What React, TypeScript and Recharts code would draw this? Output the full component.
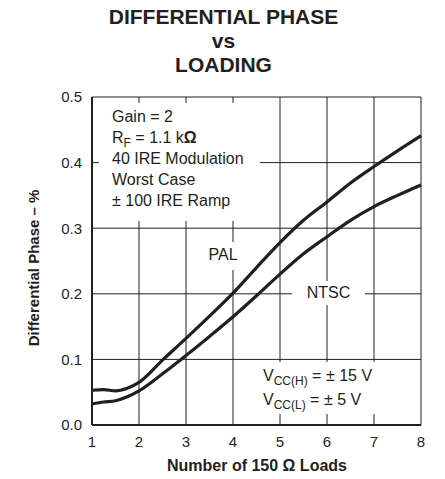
import { CartesianGrid, Line, LineChart, XAxis, YAxis } from "recharts";

const loads = [1, 1.25, 1.5, 1.75, 2, 2.5, 3, 3.5, 4, 4.5, 5, 5.5, 6, 6.5, 7, 7.5, 8];
const pal = [0.053, 0.054, 0.052, 0.056, 0.065, 0.099, 0.132, 0.166, 0.201, 0.24, 0.278, 0.312, 0.34, 0.369, 0.394, 0.418, 0.441];
const ntsc = [0.032, 0.035, 0.037, 0.043, 0.052, 0.078, 0.106, 0.135, 0.165, 0.197, 0.23, 0.261, 0.287, 0.312, 0.333, 0.35, 0.366];

const xTicks = [1, 2, 3, 4, 5, 6, 7, 8];
const yTicks = [0, 0.1, 0.2, 0.3, 0.4, 0.5];

const INK = "#231f20";
const FONT = "'Liberation Sans', Arial, Helvetica, sans-serif";

const data = loads.map((x, i) => ({ x, pal: pal[i], ntsc: ntsc[i] }));

const tickStyle = { fill: INK, fontSize: 15, fontFamily: FONT };

function Box({ left, top, width, height, children, style }: any) {
  return (
    <div
      style={{
        position: "absolute",
        left,
        top,
        width,
        height,
        background: "#fff",
        color: INK,
        fontSize: 16,
        lineHeight: "21px",
        ...style,
      }}
    >
      {children}
    </div>
  );
}

const sub = { fontSize: 12, verticalAlign: "-4px", lineHeight: 0 } as const;

export default function App() {
  return (
    <div
      style={{
        position: "absolute",
        left: 0,
        top: 0,
        width: 445,
        height: 479,
        background: "#fff",
        fontFamily: FONT,
        color: INK,
      }}
    >
      <LineChart width={445} height={479} data={data} margin={{ top: 97, right: 24, bottom: 24, left: 32 }}>
        <CartesianGrid stroke={INK} strokeWidth={1} horizontalValues={yTicks} verticalValues={xTicks} />
        <XAxis
          dataKey="x"
          type="number"
          domain={[1, 8]}
          ticks={xTicks}
          height={30}
          tick={tickStyle}
          tickSize={0}
          tickMargin={11}
          axisLine={{ stroke: INK, strokeWidth: 2 }}
          tickLine={false}
        />
        <XAxis
          xAxisId="top"
          orientation="top"
          type="number"
          domain={[1, 8]}
          height={0}
          tick={false}
          tickLine={false}
          axisLine={{ stroke: INK, strokeWidth: 2 }}
        />
        <YAxis
          type="number"
          domain={[0, 0.5]}
          ticks={yTicks}
          width={60}
          tick={tickStyle}
          tickSize={0}
          tickMargin={10}
          tickFormatter={(v: number) => v.toFixed(1)}
          axisLine={{ stroke: INK, strokeWidth: 2 }}
          tickLine={false}
        />
        <YAxis
          yAxisId="right"
          orientation="right"
          type="number"
          domain={[0, 0.5]}
          width={0}
          tick={false}
          tickLine={false}
          axisLine={{ stroke: INK, strokeWidth: 2 }}
        />
        <Line
          type="monotone"
          dataKey="pal"
          stroke={INK}
          strokeWidth={3.2}
          dot={false}
          isAnimationActive={false}
        />
        <Line
          type="monotone"
          dataKey="ntsc"
          stroke={INK}
          strokeWidth={3.2}
          dot={false}
          isAnimationActive={false}
        />
      </LineChart>

      {/* title */}
      <div
        style={{
          position: "absolute",
          left: 0,
          top: 5,
          width: 447,
          textAlign: "center",
          fontWeight: "bold",
          fontSize: 21,
          lineHeight: "24px",
        }}
      >
        DIFFERENTIAL PHASE
        <br />
        vs
        <br />
        LOADING
      </div>

      {/* axis titles */}
      <div
        style={{
          position: "absolute",
          left: 33,
          top: 268,
          transform: "translate(-50%, -50%) rotate(-90deg)",
          whiteSpace: "nowrap",
          fontWeight: "bold",
          fontSize: 15,
        }}
      >
        Differential Phase – %
      </div>
      <div
        style={{
          position: "absolute",
          left: 92,
          top: 457,
          width: 330,
          textAlign: "center",
          fontWeight: "bold",
          fontSize: 16,
        }}
      >
        Number of 150 Ω Loads
      </div>

      {/* test conditions */}
      <Box left={99} top={103} width={161} height={118} style={{ paddingTop: 3, paddingLeft: 13, boxSizing: "border-box" }}>
        Gain = 2
        <br />
        R<span style={sub}>F</span> = 1.1 k<b>Ω</b>
        <br />
        40 IRE Modulation
        <br />
        Worst Case
        <br />± 100 IRE Ramp
      </Box>

      <Box left={204} top={242} width={38} height={28} style={{ textAlign: "center", lineHeight: "26px" }}>
        PAL
      </Box>

      <Box left={292} top={281} width={73} height={24} style={{ textAlign: "center", lineHeight: "24px" }}>
        NTSC
      </Box>

      <Box left={259} top={362} width={161} height={52} style={{ paddingLeft: 4, paddingTop: 2, boxSizing: "border-box", lineHeight: "24px" }}>
        V<span style={sub}>CC(H)</span> = ± 15 V
        <br />V<span style={sub}>CC(L)</span> = ± 5 V
      </Box>
    </div>
  );
}
